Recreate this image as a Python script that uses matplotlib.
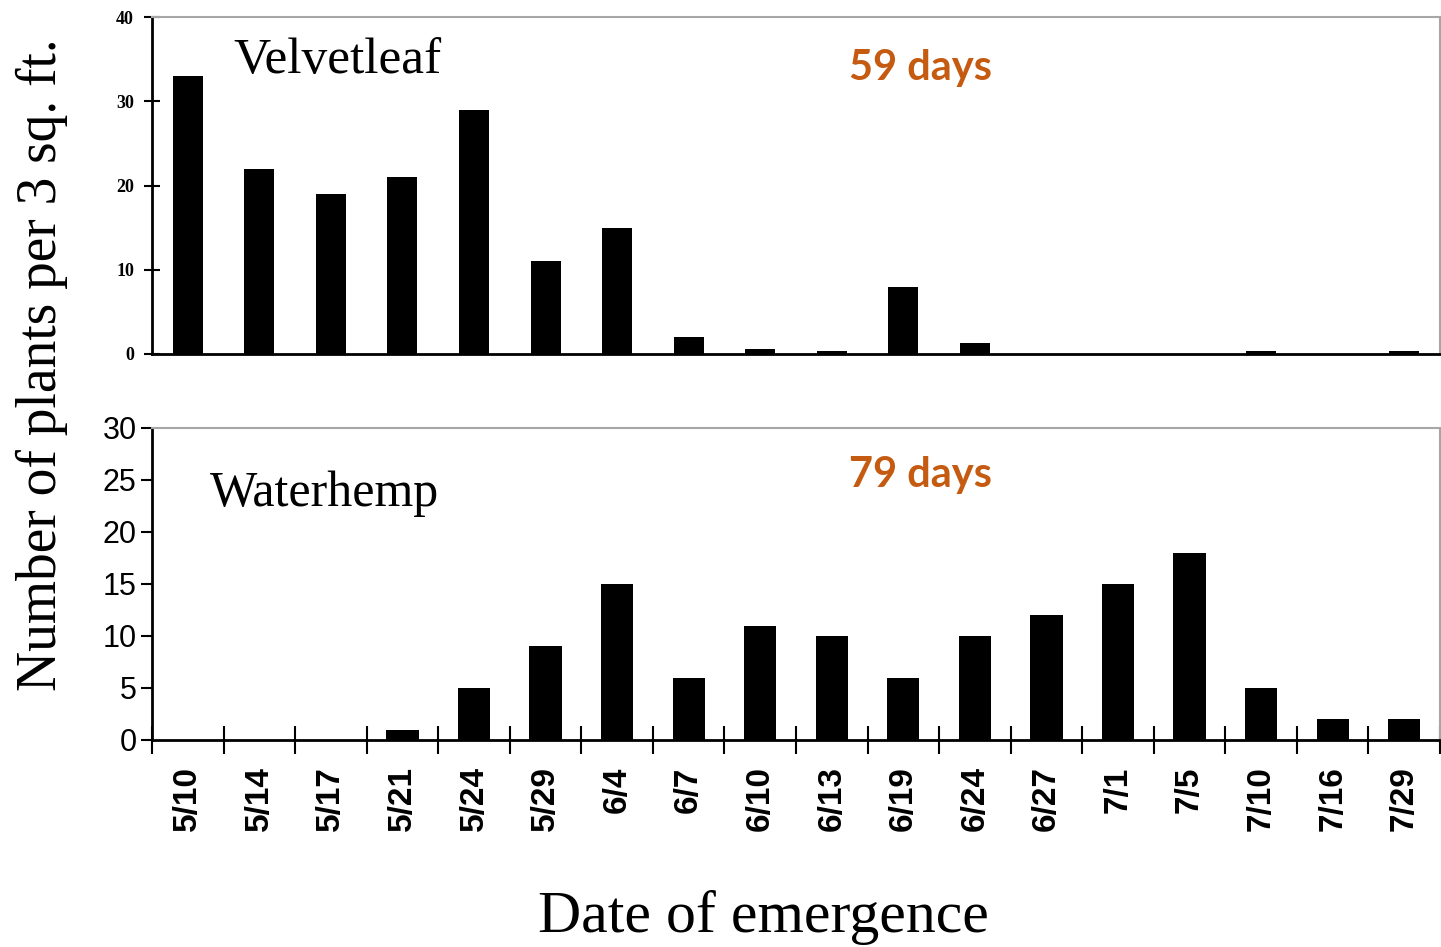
import matplotlib.pyplot as plt
import numpy as np
from matplotlib.ticker import FixedLocator, NullFormatter

# emergence dates and plant counts per 3 sq. ft.
dates = ['5/10', '5/14', '5/17', '5/21', '5/24', '5/29', '6/4', '6/7', '6/10',
         '6/13', '6/19', '6/24', '6/27', '7/1', '7/5', '7/10', '7/16', '7/29']
velvetleaf = [33, 22, 19, 21, 29, 11, 15, 2, 0.6, 0.3, 8, 1.3, 0, 0, 0, 0.3, 0, 0.3]
waterhemp = [0, 0, 0, 1, 5, 9, 15, 6, 11, 10, 6, 10, 12, 15, 18, 5, 2, 2]

orange = '#C55A11'
grey = '#a6a6a6'
serif = ['Liberation Serif', 'DejaVu Serif']
sans = ['Liberation Sans', 'DejaVu Sans']

fig = plt.figure(figsize=(14.41, 9.47), dpi=100)
ax1 = fig.add_axes([0.1055, 0.6262, 0.8938, 0.3558])
ax2 = fig.add_axes([0.1055, 0.2186, 0.8938, 0.3295])

x = np.arange(len(dates))

for ax in (ax1, ax2):
    ax.set_xlim(-0.5, len(dates) - 0.5)
    for s in ('left', 'bottom'):
        ax.spines[s].set_linewidth(2)
        ax.spines[s].set_color('black')
    for s in ('top', 'right'):
        ax.spines[s].set_linewidth(1.5)
        ax.spines[s].set_color(grey)

# velvetleaf panel
ax1.bar(x, velvetleaf, width=0.42, color='black')
ax1.set_ylim(0, 40)
ax1.set_yticks([0, 10, 20, 30, 40])
ax1.tick_params(axis='y', direction='inout', length=12, width=1.5, pad=7)
for lab in ax1.get_yticklabels():
    lab.set_fontfamily(serif)
    lab.set_fontweight('bold')
    lab.set_fontsize(13)
ax1.set_xticks([])
ax1.text(0.063, 0.87, 'Velvetleaf', transform=ax1.transAxes, fontsize=37,
         family=serif, ha='left', va='center')
ax1.text(0.597, 0.85, '59 days', transform=ax1.transAxes, fontsize=30,
         family=['Lato', 'DejaVu Sans'], fontweight='bold', color=orange,
         ha='center', va='center')

# waterhemp panel
ax2.bar(x, waterhemp, width=0.45, color='black')
ax2.set_ylim(0, 30)
ax2.set_yticks([0, 5, 10, 15, 20, 25, 30])
ax2.tick_params(axis='y', direction='out', length=8, width=1.5, pad=3, labelsize=22)
for lab in ax2.get_yticklabels():
    lab.set_fontfamily(sans)
ax2.set_xticks(x)
ax2.set_xticklabels(dates, rotation=90, fontsize=24, fontweight='bold',
                    family=sans)
ax2.tick_params(axis='x', which='major', length=0, pad=19)
ax2.xaxis.set_minor_locator(FixedLocator(np.arange(-0.5, len(dates), 1.0)))
ax2.xaxis.set_minor_formatter(NullFormatter())
ax2.tick_params(axis='x', which='minor', direction='inout', length=20, width=1.5)
ax2.text(0.045, 0.79, 'Waterhemp', transform=ax2.transAxes, fontsize=36,
         family=serif, ha='left', va='center')
ax2.text(0.597, 0.85, '79 days', transform=ax2.transAxes, fontsize=30,
         family=['Lato', 'DejaVu Sans'], fontweight='bold', color=orange,
         ha='center', va='center')

fig.text(0.530, 0.016, 'Date of emergence', fontsize=43, family=serif,
         ha='center', va='baseline')
fig.text(0.029, 0.615, 'Number of plants per 3 sq. ft.', fontsize=40,
         family=serif, rotation=90, ha='center', va='center')

fig.savefig('out.png', dpi=100)
